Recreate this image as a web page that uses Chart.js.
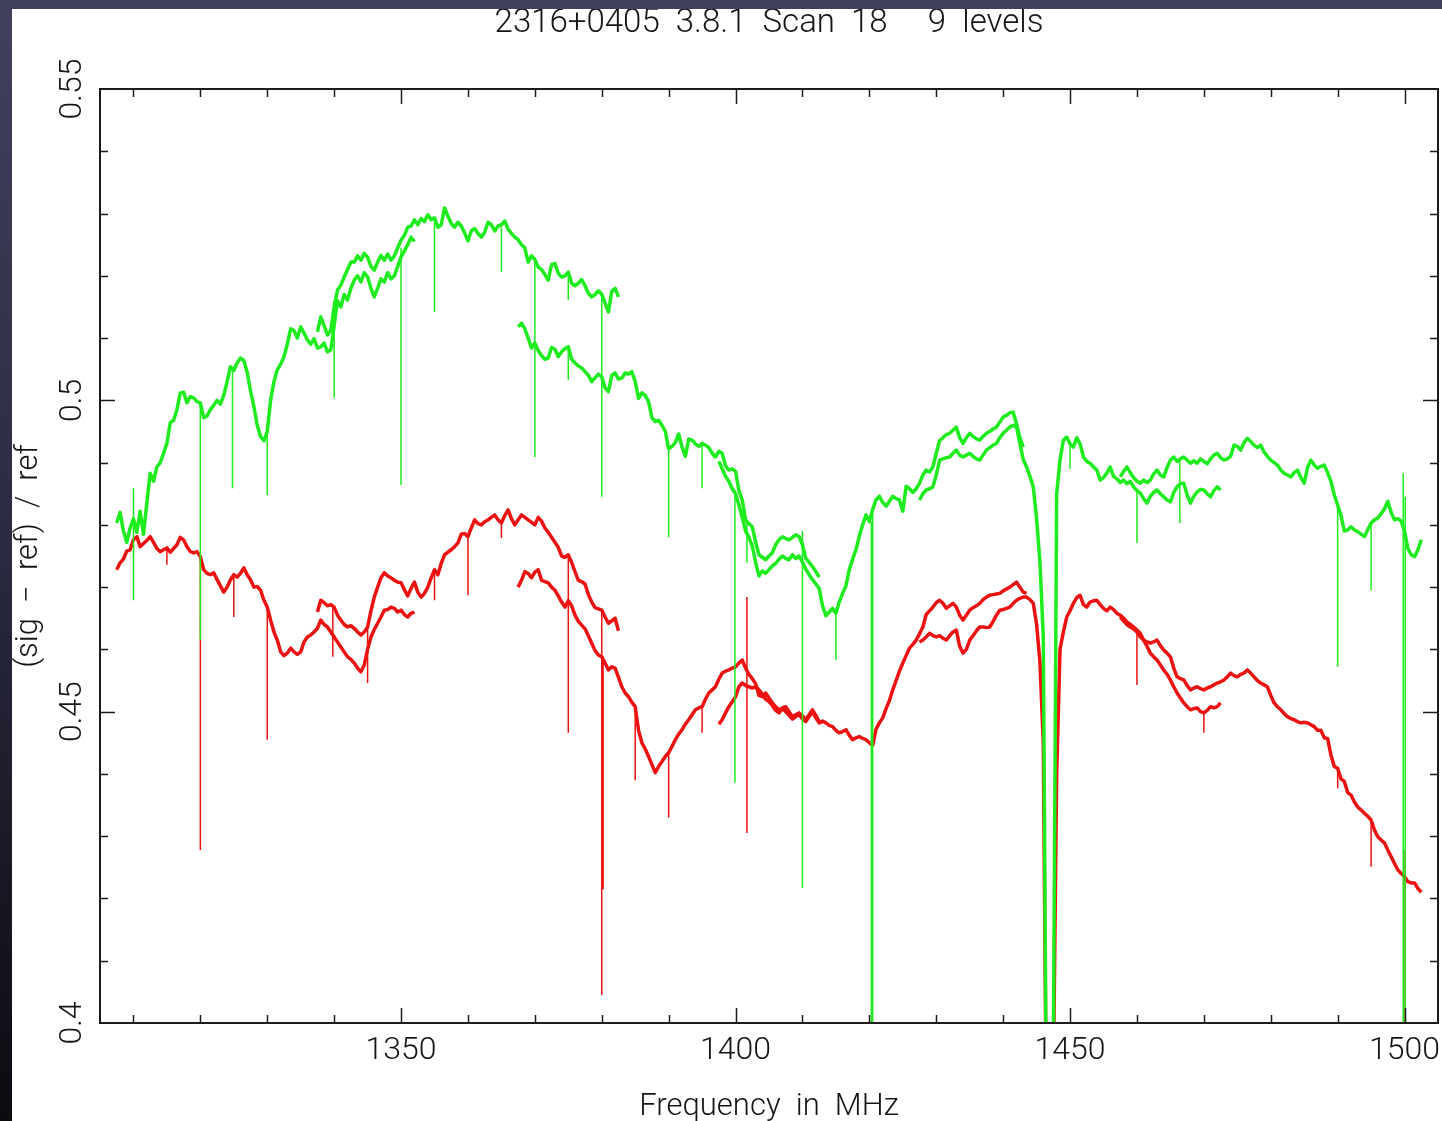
<!DOCTYPE html>
<html>
<head>
<meta charset="utf-8">
<title>2316+0405 3.8.1 Scan 18</title>
<script src="https://cdn.jsdelivr.net/npm/chart.js@4.4.1/dist/chart.umd.min.js"></script>
<style>
  html, body { margin: 0; padding: 0; }
  body {
    width: 1442px; height: 1121px; overflow: hidden; position: relative;
    background: linear-gradient(to bottom, #41415f 0%, #2c2c44 45%, #0b0b10 100%);
  }
  #panel { position: absolute; left: 12px; top: 9px; width: 1430px; height: 1112px; background: #ffffff; }
  canvas { display: block; }
</style>
</head>
<body>
<div id="panel"><canvas id="spec" width="1430" height="1112"></canvas></div>
<script>
// ---- Spectrum: six overlapping sub-bands per polarisation, 0.5 MHz channels ----
const channelWidth = 0.5;
const bandStart = [1307.5, 1337.5, 1367.5, 1397.5, 1427.5, 1457.5];

// Polarisation A (green)
const greenBand1 = [
  0.4803, 0.4820, 0.4790, 0.4772, 0.4795, 0.4810, 0.4788, 0.4822, 0.4785, 0.4835, // 1307.5
  0.4883, 0.4870, 0.4893, 0.4900, 0.4915, 0.4931, 0.4964, 0.4968, 0.4985, 0.5012, // 1312.5
  0.5013, 0.4996, 0.5006, 0.5004, 0.4998, 0.4996, 0.4972, 0.4975, 0.4985, 0.4992, // 1317.5
  0.5000, 0.4994, 0.5008, 0.5030, 0.5054, 0.5048, 0.5060, 0.5068, 0.5064, 0.5045, // 1322.5
  0.5015, 0.4990, 0.4960, 0.4942, 0.4935, 0.4950, 0.5000, 0.5030, 0.5049, 0.5058, // 1327.5
  0.5070, 0.5090, 0.5115, 0.5112, 0.5100, 0.5118, 0.5108, 0.5097, 0.5090, 0.5099, // 1332.5
  0.5084, 0.5086, 0.5092, 0.5078, 0.5081, 0.5120, 0.5160, 0.5150, 0.5170, 0.5161, // 1337.5
  0.5180, 0.5193, 0.5200, 0.5190, 0.5205, 0.5198, 0.5180, 0.5166, 0.5180, 0.5195, // 1342.5
  0.5190, 0.5205, 0.5195, 0.5200, 0.5215, 0.5230, 0.5240, 0.5250, 0.5262, 0.5255  // 1347.5
];
const greenBand2 = [
  0.5110, 0.5134, 0.5120, 0.5105, 0.5113, 0.5150, 0.5177, 0.5185, 0.5198, 0.5210, // 1337.5
  0.5222, 0.5222, 0.5232, 0.5225, 0.5236, 0.5230, 0.5215, 0.5209, 0.5222, 0.5233, // 1342.5
  0.5225, 0.5235, 0.5225, 0.5232, 0.5245, 0.5257, 0.5265, 0.5278, 0.5280, 0.5290, // 1347.5
  0.5282, 0.5292, 0.5287, 0.5298, 0.5290, 0.5293, 0.5278, 0.5282, 0.5309, 0.5296, // 1352.5
  0.5284, 0.5278, 0.5286, 0.5280, 0.5269, 0.5256, 0.5272, 0.5276, 0.5268, 0.5262, // 1357.5
  0.5270, 0.5286, 0.5282, 0.5272, 0.5280, 0.5282, 0.5288, 0.5275, 0.5268, 0.5262, // 1362.5
  0.5258, 0.5250, 0.5245, 0.5222, 0.5232, 0.5226, 0.5214, 0.5210, 0.5202, 0.5193, // 1367.5
  0.5218, 0.5220, 0.5204, 0.5198, 0.5200, 0.5206, 0.5188, 0.5184, 0.5188, 0.5194, // 1372.5
  0.5184, 0.5172, 0.5166, 0.5170, 0.5176, 0.5170, 0.5156, 0.5142, 0.5175, 0.5180, // 1377.5
  0.5166
];
const greenBand3 = [
  0.5118, 0.5124, 0.5115, 0.5100, 0.5084, 0.5092, 0.5080, 0.5072, 0.5066, 0.5068, // 1367.5
  0.5085, 0.5082, 0.5070, 0.5078, 0.5083, 0.5086, 0.5066, 0.5060, 0.5055, 0.5052, // 1372.5
  0.5046, 0.5040, 0.5030, 0.5036, 0.5042, 0.5038, 0.5020, 0.5014, 0.5040, 0.5044, // 1377.5
  0.5034, 0.5036, 0.5044, 0.5042, 0.5046, 0.5030, 0.5003, 0.5012, 0.5008, 0.4998, // 1382.5
  0.4972, 0.4966, 0.4968, 0.4960, 0.4950, 0.4922, 0.4926, 0.4932, 0.4946, 0.4925, // 1387.5
  0.4910, 0.4938, 0.4936, 0.4930, 0.4926, 0.4931, 0.4928, 0.4924, 0.4915, 0.4909, // 1392.5
  0.4918, 0.4915, 0.4895, 0.4888, 0.4890, 0.4886, 0.4855, 0.4840, 0.4808, 0.4802, // 1397.5
  0.4797, 0.4772, 0.4752, 0.4748, 0.4744, 0.4750, 0.4755, 0.4768, 0.4776, 0.4781, // 1402.5
  0.4778, 0.4776, 0.4780, 0.4784, 0.4781, 0.4768, 0.4746, 0.4740, 0.4733, 0.4725, // 1407.5
  0.4716
];
const greenBand4 = [
  0.4902, 0.4890, 0.4878, 0.4870, 0.4858, 0.4850, 0.4832, 0.4812, 0.4790, 0.4780, // 1397.5
  0.4766, 0.4740, 0.4718, 0.4726, 0.4722, 0.4728, 0.4734, 0.4738, 0.4745, 0.4750, // 1402.5
  0.4746, 0.4744, 0.4752, 0.4746, 0.4750, 0.4740, 0.4729, 0.4720, 0.4712, 0.4705, // 1407.5
  0.4698, 0.4670, 0.4654, 0.4660, 0.4666, 0.4658, 0.4676, 0.4690, 0.4702, 0.4728, // 1412.5
  0.4745, 0.4760, 0.4782, 0.4800, 0.4816, 0.4805, 0.4825, 0.4840, 0.4846, 0.4836, // 1417.5
  0.4830, 0.4838, 0.4846, 0.4842, 0.4840, 0.4822, 0.4862, 0.4858, 0.4852, 0.4858, // 1422.5
  0.4867, 0.4880, 0.4888, 0.4885, 0.4893, 0.4915, 0.4935, 0.4940, 0.4945, 0.4947, // 1427.5
  0.4952, 0.4957, 0.4940, 0.4931, 0.4940, 0.4947, 0.4942, 0.4938, 0.4936, 0.4942, // 1432.5
  0.4947, 0.4950, 0.4954, 0.4957, 0.4965, 0.4973, 0.4976, 0.4980, 0.4981, 0.4962, // 1437.5
  0.4940, 0.4925
];
const greenBand5 = [
  0.4840, 0.4850, 0.4856, 0.4858, 0.4861, 0.4880, 0.4904, 0.4906, 0.4908, 0.4909, // 1427.5
  0.4915, 0.4920, 0.4912, 0.4909, 0.4912, 0.4915, 0.4910, 0.4906, 0.4904, 0.4912, // 1432.5
  0.4920, 0.4924, 0.4928, 0.4931, 0.4940, 0.4947, 0.4952, 0.4957, 0.4960, 0.4957, // 1437.5
  0.4931, 0.4905, 0.4893, 0.4878, 0.4861, 0.4810, 0.4740, 0.4620, 0.3800, 0.3700, // 1442.5
  0.3950, 0.4850, 0.4904, 0.4936, 0.4941, 0.4930, 0.4925, 0.4940, 0.4930, 0.4909, // 1447.5
  0.4902, 0.4899, 0.4893, 0.4888, 0.4872, 0.4876, 0.4883, 0.4893, 0.4878, 0.4874, // 1452.5
  0.4868, 0.4872, 0.4866, 0.4870, 0.4861, 0.4855, 0.4851, 0.4842, 0.4835, 0.4846, // 1457.5
  0.4852, 0.4856, 0.4850, 0.4845, 0.4840, 0.4837, 0.4852, 0.4861, 0.4866, 0.4867, // 1462.5
  0.4848, 0.4835, 0.4846, 0.4853, 0.4857, 0.4856, 0.4850, 0.4845, 0.4855, 0.4861, // 1467.5
  0.4856
];
const greenBand6 = [
  0.4877, 0.4886, 0.4893, 0.4884, 0.4876, 0.4870, 0.4867, 0.4872, 0.4868, 0.4872, // 1457.5
  0.4882, 0.4888, 0.4880, 0.4877, 0.4892, 0.4904, 0.4909, 0.4902, 0.4906, 0.4909, // 1462.5
  0.4904, 0.4899, 0.4903, 0.4899, 0.4906, 0.4902, 0.4898, 0.4906, 0.4912, 0.4915, // 1467.5
  0.4908, 0.4904, 0.4906, 0.4910, 0.4928, 0.4926, 0.4920, 0.4932, 0.4939, 0.4934, // 1472.5
  0.4928, 0.4924, 0.4928, 0.4917, 0.4910, 0.4904, 0.4900, 0.4896, 0.4888, 0.4883, // 1477.5
  0.4880, 0.4877, 0.4884, 0.4888, 0.4876, 0.4867, 0.4892, 0.4904, 0.4896, 0.4891, // 1482.5
  0.4894, 0.4896, 0.4884, 0.4870, 0.4848, 0.4832, 0.4815, 0.4790, 0.4792, 0.4797, // 1487.5
  0.4792, 0.4789, 0.4785, 0.4781, 0.4792, 0.4803, 0.4808, 0.4811, 0.4818, 0.4826, // 1492.5
  0.4838, 0.4820, 0.4808, 0.4810, 0.4806, 0.4790, 0.4762, 0.4752, 0.4749, 0.4760, // 1497.5
  0.4776
];

// Polarisation B (red)
const redBand1 = [
  0.4728, 0.4739, 0.4745, 0.4758, 0.4760, 0.4776, 0.4781, 0.4765, 0.4770, 0.4775, // 1307.5
  0.4781, 0.4772, 0.4762, 0.4757, 0.4760, 0.4763, 0.4756, 0.4762, 0.4768, 0.4780, // 1312.5
  0.4776, 0.4765, 0.4757, 0.4755, 0.4757, 0.4749, 0.4728, 0.4722, 0.4720, 0.4723, // 1317.5
  0.4712, 0.4702, 0.4692, 0.4700, 0.4712, 0.4720, 0.4716, 0.4722, 0.4731, 0.4720, // 1322.5
  0.4712, 0.4700, 0.4701, 0.4695, 0.4679, 0.4668, 0.4647, 0.4628, 0.4615, 0.4596, // 1327.5
  0.4590, 0.4594, 0.4602, 0.4596, 0.4592, 0.4596, 0.4612, 0.4620, 0.4623, 0.4628, // 1332.5
  0.4634, 0.4647, 0.4640, 0.4636, 0.4628, 0.4620, 0.4612, 0.4604, 0.4596, 0.4588, // 1337.5
  0.4584, 0.4578, 0.4570, 0.4564, 0.4575, 0.4600, 0.4620, 0.4632, 0.4642, 0.4652, // 1342.5
  0.4663, 0.4664, 0.4668, 0.4666, 0.4660, 0.4663, 0.4656, 0.4652, 0.4658, 0.4660  // 1347.5
];
const redBand2 = [
  0.4660, 0.4679, 0.4675, 0.4670, 0.4672, 0.4668, 0.4655, 0.4647, 0.4640, 0.4636, // 1337.5
  0.4638, 0.4634, 0.4628, 0.4623, 0.4628, 0.4636, 0.4662, 0.4684, 0.4700, 0.4715, // 1342.5
  0.4723, 0.4718, 0.4715, 0.4711, 0.4708, 0.4707, 0.4696, 0.4686, 0.4698, 0.4708, // 1347.5
  0.4692, 0.4684, 0.4690, 0.4700, 0.4715, 0.4728, 0.4720, 0.4738, 0.4752, 0.4756, // 1352.5
  0.4760, 0.4765, 0.4771, 0.4785, 0.4786, 0.4781, 0.4795, 0.4808, 0.4802, 0.4800, // 1357.5
  0.4805, 0.4808, 0.4812, 0.4816, 0.4808, 0.4803, 0.4815, 0.4824, 0.4810, 0.4800, // 1362.5
  0.4808, 0.4816, 0.4812, 0.4808, 0.4804, 0.4800, 0.4812, 0.4806, 0.4795, 0.4788, // 1367.5
  0.4780, 0.4772, 0.4764, 0.4750, 0.4748, 0.4752, 0.4740, 0.4725, 0.4711, 0.4709, // 1372.5
  0.4705, 0.4688, 0.4676, 0.4667, 0.4665, 0.4663, 0.4652, 0.4642, 0.4646, 0.4650, // 1377.5
  0.4630
];
const redBand3 = [
  0.4700, 0.4711, 0.4725, 0.4722, 0.4715, 0.4724, 0.4728, 0.4711, 0.4709, 0.4707, // 1367.5
  0.4700, 0.4695, 0.4686, 0.4676, 0.4668, 0.4678, 0.4670, 0.4655, 0.4645, 0.4639, // 1372.5
  0.4633, 0.4622, 0.4610, 0.4598, 0.4591, 0.4588, 0.4578, 0.4567, 0.4572, 0.4570, // 1377.5
  0.4555, 0.4540, 0.4530, 0.4524, 0.4515, 0.4508, 0.4470, 0.4450, 0.4440, 0.4428, // 1382.5
  0.4415, 0.4402, 0.4412, 0.4420, 0.4428, 0.4434, 0.4444, 0.4455, 0.4464, 0.4471, // 1387.5
  0.4480, 0.4487, 0.4495, 0.4503, 0.4506, 0.4508, 0.4520, 0.4530, 0.4535, 0.4540, // 1392.5
  0.4552, 0.4562, 0.4565, 0.4567, 0.4570, 0.4572, 0.4578, 0.4583, 0.4570, 0.4560, // 1397.5
  0.4553, 0.4545, 0.4526, 0.4524, 0.4530, 0.4522, 0.4514, 0.4508, 0.4503, 0.4506, // 1402.5
  0.4508, 0.4500, 0.4492, 0.4495, 0.4498, 0.4493, 0.4487, 0.4495, 0.4503, 0.4494, // 1407.5
  0.4484, 0.4483
];
const redBand4 = [
  0.4480, 0.4487, 0.4498, 0.4508, 0.4516, 0.4524, 0.4540, 0.4546, 0.4542, 0.4540, // 1397.5
  0.4538, 0.4540, 0.4535, 0.4528, 0.4520, 0.4516, 0.4510, 0.4502, 0.4498, 0.4505, // 1402.5
  0.4500, 0.4494, 0.4488, 0.4492, 0.4496, 0.4488, 0.4484, 0.4492, 0.4500, 0.4490, // 1407.5
  0.4482, 0.4485, 0.4482, 0.4478, 0.4476, 0.4470, 0.4466, 0.4468, 0.4471, 0.4462, // 1412.5
  0.4455, 0.4458, 0.4460, 0.4457, 0.4455, 0.4450, 0.4446, 0.4472, 0.4482, 0.4490, // 1417.5
  0.4505, 0.4518, 0.4535, 0.4550, 0.4565, 0.4578, 0.4590, 0.4602, 0.4608, 0.4615, // 1422.5
  0.4625, 0.4636, 0.4656, 0.4662, 0.4668, 0.4675, 0.4679, 0.4674, 0.4666, 0.4670, // 1427.5
  0.4674, 0.4668, 0.4655, 0.4647, 0.4655, 0.4663, 0.4667, 0.4670, 0.4674, 0.4680, // 1432.5
  0.4684, 0.4687, 0.4688, 0.4689, 0.4690, 0.4694, 0.4697, 0.4700, 0.4704, 0.4708, // 1437.5
  0.4700, 0.4692, 0.4690
];
const redBand5 = [
  0.4612, 0.4615, 0.4620, 0.4626, 0.4622, 0.4620, 0.4622, 0.4618, 0.4615, 0.4622, // 1427.5
  0.4628, 0.4631, 0.4605, 0.4594, 0.4600, 0.4615, 0.4622, 0.4630, 0.4636, 0.4636, // 1432.5
  0.4635, 0.4636, 0.4645, 0.4655, 0.4663, 0.4664, 0.4666, 0.4668, 0.4674, 0.4679, // 1437.5
  0.4682, 0.4684, 0.4684, 0.4680, 0.4674, 0.4640, 0.4580, 0.4450, 0.3800, 0.3700, // 1442.5
  0.3900, 0.4400, 0.4600, 0.4628, 0.4652, 0.4662, 0.4674, 0.4683, 0.4687, 0.4672, // 1447.5
  0.4668, 0.4676, 0.4678, 0.4679, 0.4672, 0.4666, 0.4662, 0.4668, 0.4664, 0.4658, // 1452.5
  0.4655, 0.4650, 0.4644, 0.4640, 0.4636, 0.4631, 0.4626, 0.4615, 0.4605, 0.4594, // 1457.5
  0.4588, 0.4583, 0.4575, 0.4567, 0.4560, 0.4551, 0.4540, 0.4530, 0.4522, 0.4514, // 1462.5
  0.4508, 0.4503, 0.4505, 0.4506, 0.4500, 0.4498, 0.4502, 0.4508, 0.4506, 0.4508, // 1467.5
  0.4514
];
const redBand6 = [
  0.4652, 0.4646, 0.4640, 0.4636, 0.4633, 0.4628, 0.4620, 0.4615, 0.4612, 0.4610, // 1457.5
  0.4612, 0.4615, 0.4606, 0.4599, 0.4594, 0.4588, 0.4570, 0.4556, 0.4553, 0.4551, // 1462.5
  0.4542, 0.4535, 0.4538, 0.4540, 0.4537, 0.4535, 0.4538, 0.4540, 0.4543, 0.4546, // 1467.5
  0.4548, 0.4551, 0.4556, 0.4562, 0.4558, 0.4556, 0.4560, 0.4562, 0.4567, 0.4562, // 1472.5
  0.4556, 0.4550, 0.4546, 0.4543, 0.4540, 0.4526, 0.4514, 0.4508, 0.4503, 0.4497, // 1477.5
  0.4492, 0.4489, 0.4487, 0.4484, 0.4482, 0.4483, 0.4482, 0.4479, 0.4476, 0.4470, // 1482.5
  0.4470, 0.4458, 0.4457, 0.4430, 0.4412, 0.4409, 0.4392, 0.4388, 0.4370, 0.4366, // 1487.5
  0.4355, 0.4347, 0.4342, 0.4337, 0.4332, 0.4326, 0.4310, 0.4299, 0.4294, 0.4289, // 1492.5
  0.4278, 0.4267, 0.4256, 0.4246, 0.4240, 0.4235, 0.4227, 0.4225, 0.4225, 0.4216, // 1497.5
  0.4210
];

// Interference spikes: [frequency MHz, level at top, level at bottom]
const greenSpikes = [
  [1310.0, 0.4859, 0.4679], [1320.0, 0.4996, 0.4615], [1324.8, 0.5050, 0.4859],
  [1330.0, 0.4952, 0.4848], [1340.0, 0.5160, 0.5004], [1350.0, 0.5245, 0.4864],
  [1355.0, 0.5290, 0.5142], [1365.0, 0.5278, 0.5206], [1370.0, 0.5230, 0.4909],
  [1375.0, 0.5206, 0.5161], [1375.0, 0.5086, 0.5033], [1380.0, 0.5174, 0.4845],
  [1390.0, 0.4922, 0.4780], [1395.0, 0.4931, 0.4859], [1399.9, 0.4856, 0.4386],
  [1401.7, 0.4803, 0.4739], [1410.0, 0.4790, 0.4217], [1415.0, 0.4658, 0.4583],
  [1420.3, 0.4805, 0.3900], [1420.5, 0.4825, 0.3900], [1450.0, 0.4935, 0.4890],
  [1460.0, 0.4855, 0.4771], [1466.4, 0.4904, 0.4803], [1490.0, 0.4832, 0.4572],
  [1495.0, 0.4803, 0.4695], [1499.8, 0.4883, 0.3900], [1500.1, 0.4845, 0.3900]
];
const redSpikes = [
  [1315.0, 0.4763, 0.4736], [1320.0, 0.4749, 0.4278], [1325.0, 0.4720, 0.4652],
  [1330.0, 0.4668, 0.4455], [1339.8, 0.4668, 0.4588], [1345.0, 0.4636, 0.4546],
  [1355.0, 0.4728, 0.4679], [1360.0, 0.4781, 0.4687], [1365.0, 0.4803, 0.4779],
  [1375.0, 0.4752, 0.4466], [1380.0, 0.4663, 0.4045], [1380.2, 0.4588, 0.4215],
  [1385.0, 0.4508, 0.4390], [1390.0, 0.4434, 0.4330], [1395.0, 0.4508, 0.4466],
  [1401.7, 0.4684, 0.4305], [1420.4, 0.4446, 0.3900], [1460.0, 0.4626, 0.4543],
  [1470.0, 0.4498, 0.4466], [1490.0, 0.4406, 0.4377], [1495.0, 0.4326, 0.4251],
  [1499.9, 0.4278, 0.3900]
];

// Axis ticks and labels
const xTickLabels = [1350, 1400, 1450, 1500];
const xTickMarks = [1310, 1320, 1330, 1340, 1350, 1360, 1370, 1380, 1390, 1400,
                    1410, 1420, 1430, 1440, 1450, 1460, 1470, 1480, 1490, 1500];
const yTickLabels = [0.4, 0.45, 0.5, 0.55];
const yTickMarks = [0.41, 0.42, 0.43, 0.44, 0.45, 0.46, 0.47, 0.48, 0.49, 0.5,
                    0.51, 0.52, 0.53, 0.54];

const titleText = '2316+0405  3.8.1  Scan  18     9  levels';
const xTitle = 'Frequency  in  MHz';
const yTitle = '(sig  \u2212  ref)  /  ref';

// ---- Build datasets ----
const GREEN = 'rgb(30, 236, 30)';
const RED = 'rgb(236, 18, 18)';
const FONT = '"Roboto", "Liberation Sans", "DejaVu Sans", sans-serif';

function bandPoints(start, values) {
  return values.map((v, i) => ({ x: start + i * channelWidth, y: v }));
}
function spikePoints(list) {
  const pts = [];
  list.forEach(([f, top, bottom]) => {
    pts.push({ x: f, y: top }, { x: f, y: bottom }, { x: f, y: null });
  });
  return pts;
}
function traceSet(values, start, color) {
  return {
    data: bandPoints(start, values),
    borderColor: color, borderWidth: 3.5, pointRadius: 0,
    tension: 0, fill: false, borderJoinStyle: 'round', clip: 0
  };
}

const greenBands = [greenBand1, greenBand2, greenBand3, greenBand4, greenBand5, greenBand6];
const redBands = [redBand1, redBand2, redBand3, redBand4, redBand5, redBand6];

const datasets = [];
// first dataset is drawn on top: green above red
datasets.push({
  data: spikePoints(greenSpikes), borderColor: GREEN, borderWidth: 1.5,
  pointRadius: 0, spanGaps: false, clip: 0
});
greenBands.forEach((vals, i) => datasets.push(traceSet(vals, bandStart[i], GREEN)));
datasets.push({
  data: spikePoints(redSpikes), borderColor: RED, borderWidth: 1.5,
  pointRadius: 0, spanGaps: false, clip: 0
});
redBands.forEach((vals, i) => datasets.push(traceSet(vals, bandStart[i], RED)));

// Box with inward tick marks on all four sides
const boxTicks = {
  id: 'boxTicks',
  afterDatasetsDraw(chart) {
    const { ctx, chartArea: a, scales: { x, y } } = chart;
    ctx.save();
    ctx.strokeStyle = '#1c1c1c';
    ctx.lineWidth = 1.5;
    ctx.beginPath();
    xTickMarks.forEach(v => {
      const px = Math.round(x.getPixelForValue(v)) + 0.5;
      const len = xTickLabels.includes(v) ? 15 : 8;
      ctx.moveTo(px, a.bottom); ctx.lineTo(px, a.bottom - len);
      ctx.moveTo(px, a.top); ctx.lineTo(px, a.top + len);
    });
    yTickMarks.forEach(v => {
      const py = Math.round(y.getPixelForValue(v)) + 0.5;
      const len = yTickLabels.some(t => Math.abs(t - v) < 1e-9) ? 15 : 8;
      ctx.moveTo(a.left, py); ctx.lineTo(a.left + len, py);
      ctx.moveTo(a.right, py); ctx.lineTo(a.right - len, py);
    });
    ctx.stroke();
    ctx.lineWidth = 2;
    ctx.strokeRect(a.left, a.top, a.right - a.left, a.bottom - a.top);
    ctx.restore();
  }
};

// keep the plot box fixed: no extra room reserved for edge labels
function noEdgePadding(s) {
  s.paddingLeft = 0; s.paddingRight = 0; s.paddingTop = 0; s.paddingBottom = 0;
}

new Chart(document.getElementById('spec'), {
  type: 'line',
  data: { datasets },
  options: {
    responsive: false,
    animation: false,
    devicePixelRatio: 1,
    events: [],
    layout: { padding: { left: 0, right: 4, top: 0, bottom: 0 } },
    plugins: {
      legend: { display: false },
      tooltip: { enabled: false },
      title: {
        display: true, text: titleText, fullSize: false, color: '#151515',
        font: { family: FONT, size: 33, weight: '300', lineHeight: '25px' },
        padding: { top: 2, bottom: 53 }
      }
    },
    scales: {
      x: {
        type: 'linear', position: 'bottom', min: 1305, max: 1505,
        grid: { display: false, drawTicks: false },
        border: { display: false },
        afterBuildTicks: s => { s.ticks = xTickLabels.map(v => ({ value: v })); },
        afterFit: s => { s.height = 98; noEdgePadding(s); },
        ticks: {
          color: '#151515', padding: 12, maxRotation: 0, autoSkip: false,
          font: { family: FONT, size: 32, weight: '300', lineHeight: '32px' },
          callback: v => String(v)
        },
        title: {
          display: true, text: xTitle, color: '#151515',
          font: { family: FONT, size: 31, weight: '300', lineHeight: '28px' },
          padding: { top: 0, bottom: 0 }
        }
      },
      y: {
        type: 'linear', position: 'left', min: 0.4, max: 0.55,
        grid: { display: false, drawTicks: false },
        border: { display: false },
        afterBuildTicks: s => { s.ticks = yTickLabels.map(v => ({ value: v })); },
        afterFit: s => { s.width = 88; noEdgePadding(s); },
        ticks: {
          color: '#151515', padding: -3, minRotation: 90, maxRotation: 90,
          autoSkip: false, crossAlign: 'center',
          font: { family: FONT, size: 32, weight: '300', lineHeight: '32px' },
          callback: v => String(v)
        },
        title: {
          display: true, text: yTitle, color: '#151515',
          font: { family: FONT, size: 31, weight: '300', lineHeight: '30px' },
          padding: { top: 2, bottom: 0 }
        }
      }
    }
  },
  plugins: [boxTicks]
});
</script>
</body>
</html>
